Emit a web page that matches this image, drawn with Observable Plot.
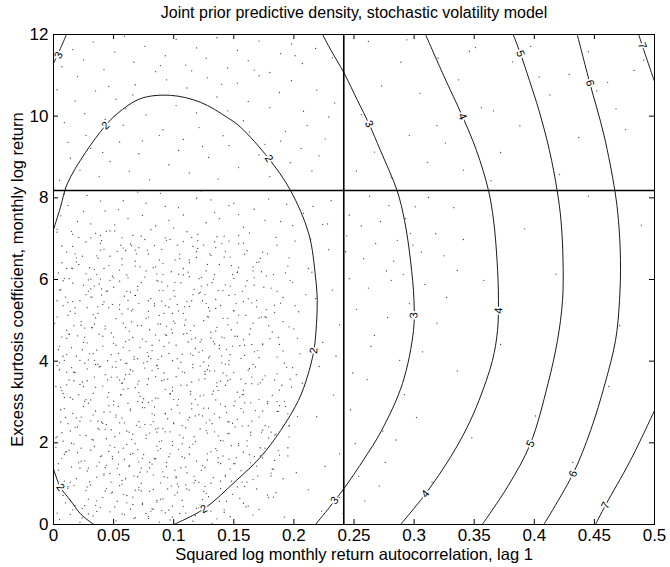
<!DOCTYPE html>
<html><head><meta charset="utf-8">
<script src="https://cdn.jsdelivr.net/npm/d3@7"></script>
<script src="https://cdn.jsdelivr.net/npm/@observablehq/plot@0.6"></script>
<style>body{margin:0;background:#fff}</style>
</head><body><div id="chart"></div>
<script>
const titleText = "Joint prior predictive density, stochastic volatility model";
const xLabelText = "Squared log monthly return autocorrelation, lag 1";
const yLabelText = "Excess kurtosis coefficient, monthly log return";
const xTicks = [0, 0.05, 0.1, 0.15, 0.2, 0.25, 0.3, 0.35, 0.4, 0.45, 0.5];
const yTicks = [0, 2, 4, 6, 8, 10, 12];
const observedX = 0.2415;
const observedY = 8.18;

// contour polylines, [x, y] in data units
const contour2main = [[0,7.22],[0.0058,7.77],[0.0114,8.34],[0.0266,9.11],[0.0433,9.77],[0.053,10.06],[0.0724,10.43],[0.0973,10.51],[0.1223,10.34],[0.1445,9.97],[0.1556,9.73],[0.1791,8.96],[0.1972,8.18],[0.2124,7.12],[0.218,6.06],[0.2194,5.49],[0.2188,4.92],[0.2166,4.26],[0.2111,3.61],[0.2038,3.04],[0.1889,2.3],[0.1722,1.65],[0.1522,1.08],[0.125,0.38],[0.1001,0]];
const contour2corner = [[0,1.36],[0.0058,0.91],[0.0141,0.59],[0.0225,0.26],[0.0335,0]];
const contour3corner = [[0.0108,12],[0.0058,11.66],[0,11.29]];
const contour3main = [[0.2238,12],[0.2309,11.61],[0.2413,11.08],[0.253,10.38],[0.2625,9.81],[0.272,9.16],[0.2858,8.18],[0.292,7.45],[0.297,6.47],[0.2999,5.49],[0.2995,4.75],[0.2903,3.45],[0.2729,2.3],[0.2583,1.6],[0.2415,0.875],[0.2296,0.42],[0.218,0]];
const contour4 = [[0.3095,12],[0.3245,11.0],[0.3403,9.99],[0.3519,9.16],[0.3619,8.18],[0.3661,7.45],[0.369,6.47],[0.3702,5.49],[0.3694,4.75],[0.3652,4.02],[0.354,3.04],[0.3436,2.35],[0.3303,1.65],[0.3095,0.75],[0.2887,0]];
const contour5 = [[0.3824,12],[0.3885,11.53],[0.396,10.87],[0.4039,10.14],[0.4126,9.16],[0.419,8.18],[0.4222,7.45],[0.4239,6.47],[0.4235,5.49],[0.4193,4.51],[0.4114,3.45],[0.3968,1.98],[0.3785,0.96],[0.3567,0]];
const contour6 = [[0.4357,12],[0.4462,10.81],[0.458,9.53],[0.467,8.18],[0.47,7.45],[0.4717,6.47],[0.4709,5.49],[0.4676,4.51],[0.4588,3.45],[0.4468,2.3],[0.4322,1.24],[0.4079,0]];
const contour7top = [[0.4869,12],[0.4898,11.73],[0.5,10.85]];
const contour7bottom = [[0.5,2.79],[0.48,1.57],[0.4592,0.47],[0.4509,0]];

const contourLevels = [2, 2, 3, 3, 4, 5, 6, 7, 7];
const contourLines = [contour2main, contour2corner, contour3corner, contour3main, contour4, contour5, contour6, contour7top, contour7bottom];

// inline contour labels
const labelLevels = [2, 2, 2, 2, 2, 3, 3, 3, 3, 4, 4, 4, 5, 5, 6, 6, 7, 7];
const labelX = [0.0433, 0.1791, 0.2166, 0.125, 0.0058, 0.0042, 0.2625, 0.2997, 0.2338, 0.3403, 0.3702, 0.3095, 0.3885, 0.3968, 0.4462, 0.4322, 0.4898, 0.4592];
const labelY = [9.77, 8.96, 4.26, 0.38, 0.91, 11.49, 9.81, 5.12, 0.59, 9.99, 5.24, 0.75, 11.53, 1.98, 10.81, 1.24, 11.73, 0.47];

// prior predictive draws: "x*1000,y*100"
const drawsBands = [
"5,12 18,47 27,83 33,21 41,66 52,9 58,74 64,38 71,91 79,15 86,55 93,29 101,72 108,44 116,8 124,61 131,33 139,88 147,19 158,52 171,37 185,78 12,93 22,5 36,58 47,31 55,95 68,17 74,49 83,86 91,63 97,11 105,27 113,84 121,41 129,68 136,14 144,57 153,92 166,23 179,66 8,71 16,36 29,62 44,88 61,53 77,27 88,6 99,45 110,97 118,22 127,76 3,28 24,16 39,42 49,79 66,67 82,39 95,87 107,59 132,3 149,74 162,45 192,18 14,59 31,97 57,26 73,82 90,34 103,99 126,93 142,36",
"4,133 11,178 19,112 26,156 34,191 42,124 49,167 57,108 63,145 70,183 78,129 85,161 92,117 99,194 106,139 113,172 121,103 128,158 135,186 143,121 150,149 158,177 166,110 174,163 183,135 195,188 7,162 15,141 23,187 30,105 38,153 46,179 53,137 61,196 67,119 75,171 82,148 89,102 96,166 104,184 111,127 119,155 126,139 133,115 141,168 148,193 156,132 164,151 172,188 181,119 9,106 17,197 28,131 36,116 44,145 51,189 59,160 66,174 73,101 80,139 87,181 94,152 102,114 109,163 116,197 124,144 131,178 139,106 146,160 154,198 169,143 188,170 202,127 2,189 21,151 40,168 55,122 71,153 86,192 101,133 117,118 137,152 161,104",
"3,215 10,262 18,238 25,289 33,207 40,251 47,276 55,224 62,297 69,243 77,211 84,268 91,235 98,282 105,219 112,256 120,293 127,230 134,271 141,205 149,248 156,284 164,226 171,263 179,212 187,277 196,241 6,281 14,229 22,253 29,297 37,236 44,210 52,268 59,249 66,221 74,286 81,244 88,203 95,259 103,292 110,237 117,215 124,266 132,247 139,295 146,223 153,258 161,205 168,279 176,242 185,221 203,265 8,204 16,272 27,218 35,278 43,233 50,293 57,261 65,208 72,238 79,299 86,226 93,271 100,247 108,212 115,283 122,234 130,256 137,217 144,274 151,239 159,298 174,231 193,289 12,247 31,254 48,232 64,279 83,252 97,227 113,262 129,285 145,252 162,242",
"2,338 9,311 17,372 24,349 31,305 39,387 46,323 53,361 60,394 68,335 75,308 82,377 90,352 97,319 104,383 111,341 118,306 126,368 133,327 140,396 147,355 155,312 162,378 170,344 178,301 186,369 198,337 5,396 13,354 21,318 28,381 35,336 43,367 50,302 57,346 64,379 71,323 79,357 86,390 93,331 100,306 107,374 115,349 122,315 129,389 136,338 144,364 151,302 158,329 166,392 174,355 182,316 194,385 207,346 7,328 15,384 26,302 34,361 41,339 49,386 56,317 63,368 70,344 78,399 85,310 92,371 99,336 106,397 114,326 121,354 128,379 135,305 143,341 150,372 157,318 165,361 188,329 202,367 11,373 37,392 58,331 76,383 95,356 116,392 139,351 160,345",
"4,428 11,476 19,412 26,459 34,491 41,437 48,469 56,403 63,452 70,487 78,421 85,464 92,436 100,498 107,417 114,475 122,447 129,408 136,483 144,429 151,461 159,414 166,493 174,442 182,471 191,425 203,456 7,459 15,433 23,497 30,418 38,466 45,401 52,439 60,482 67,411 74,454 82,426 89,491 96,445 103,406 111,468 118,431 125,499 133,448 140,413 148,477 155,438 163,466 171,409 179,487 188,441 9,402 17,487 28,445 36,427 43,479 50,459 58,434 65,496 72,433 80,477 87,404 94,463 102,439 109,488 116,414 123,453 131,471 138,439 146,402 153,494 170,426 196,484 13,466 32,482 54,419 77,448 98,478 121,422 142,457 165,441",
"3,508 10,557 18,531 25,586 33,514 40,562 47,598 55,527 62,549 70,583 77,505 84,541 91,573 99,517 106,592 113,534 121,566 128,509 135,551 143,587 150,523 157,571 165,543 173,508 181,579 191,556 204,521 6,575 14,522 22,548 29,599 37,533 44,571 52,504 59,559 66,527 73,593 81,553 88,512 95,584 103,539 110,501 117,576 124,548 132,592 139,536 146,561 154,513 161,597 169,549 177,526 186,571 197,598 8,536 16,591 27,563 35,506 42,545 50,581 57,516 64,569 71,541 79,522 86,598 93,536 101,559 108,517 115,548 123,584 130,523 137,573 145,505 152,541 167,586 184,537 210,563 12,512 31,577 49,539 68,561 97,552 126,563 158,546",
"4,616 11,667 19,643 27,692 34,625 42,674 49,608 57,651 64,687 72,631 79,662 86,614 94,696 101,648 108,627 116,681 123,605 131,659 138,637 146,694 153,618 161,671 169,642 177,609 186,684 196,653 212,627 7,682 15,628 24,657 31,601 39,688 46,634 53,669 61,611 68,645 76,698 83,629 90,674 98,619 105,662 113,641 120,695 127,621 135,678 142,655 150,603 158,689 166,631 174,667 183,612 201,694 9,603 21,637 37,652 55,623 71,678 88,648 104,613 119,668 134,692 148,634 172,652 193,616",
"3,723 12,781 20,742 28,806 35,713 43,768 51,734 58,793 66,708 74,757 81,722 89,811 96,745 104,776 111,717 119,799 127,739 134,764 142,706 150,787 158,728 167,772 176,745 185,703 194,784 208,762 224,735 6,756 16,711 25,767 39,792 47,719 62,749 70,814 85,731 93,779 108,758 115,703 123,817 138,749 146,781 163,714 179,797 199,732 216,779 9,809 31,736 54,771 77,787 100,726 131,795 154,759 189,742",
"5,843 14,897 22,868 31,921 38,852 47,889 55,937 63,865 71,908 80,844 88,953 96,881 104,916 113,861 121,972 129,899 137,846 146,928 154,874 163,961 171,905 180,852 189,939 197,886 206,921 215,866 226,944 9,984 18,1037 26,1006 35,1062 43,992 52,1041 60,1018 68,1077 77,1003 85,1051 94,1089 102,1026 111,1069 119,1008 128,1094 136,1047 145,1013 153,1081 162,1036 171,1099 180,1021 188,1058 198,1087 208,1012 219,1064 229,998 7,1121 16,1163 25,1138 33,1182 42,1114 51,1157 59,1196 67,1132 76,1171 85,1109 93,1148 102,1188 110,1125 119,1167 127,1142 136,1192 145,1118 153,1161 162,1136 171,1184 180,1107 189,1153 198,1177 207,1129 218,1166 232,1143 12,936 27,953 41,911 58,978 74,939 91,967 108,943 124,926 141,952 158,989 176,931 193,963 211,977 221,903 234,1032 3,1065 20,1097 46,1073 66,1052 89,1124 115,1111 140,1078 167,1113 201,1148",
"212,85 226,142 238,66 251,198 219,264 233,317 247,281 261,355 274,229 288,402 224,446 238,489 252,527 267,463 281,598 296,541 215,618 229,673 244,707 258,651 272,742 286,696 301,778 231,793 246,758 263,804 279,781 293,749 312,801 221,387 235,412 249,371 264,436 278,507 291,612 306,667 218,553 232,574 246,602 256,731 268,688 283,645 297,713 309,588 238,173 254,118 271,94 285,207 302,262 223,33 241,27 259,58 276,152 292,318 307,423 319,493 327,556 336,622 318,712 333,776 341,698 325,658 214,699 228,736 243,668 262,579 277,621 299,684",
"252,866 267,912 281,849 296,953 311,887 326,934 341,868 356,1021 372,911 388,976 404,1096 421,857 437,948 452,1062 468,1018 483,1112 256,1004 273,1074 289,1132 305,1056 320,1142 337,1089 351,1168 366,1013 382,1133 397,1171 413,1052 429,1102 445,1158 461,1083 476,967 491,1137 262,1183 294,1187 346,1159 319,977 364,842 392,724 418,613 445,804 471,487 358,598 336,376 372,441 401,266 432,152 348,212 315,104 489,733 462,338",
"17,352 143,118 62,604 188,291 35,47 109,533 77,219 154,688 8,412 126,375 94,142 51,719 171,506 23,263 138,57 66,458 199,384 42,627 115,296 81,33 157,241 29,571 103,684 184,157 56,318 12,89 134,442 73,706 165,345 47,194 92,517 7,641 121,269 178,72 38,386 149,612 84,161 58,493 196,214 25,338 111,87 162,553 44,245 99,401 15,718 137,163 70,301 187,458 53,57 128,637 32,482 174,278 87,596 4,149 156,407 63,226 120,711 96,35 41,539 181,126 19,261 145,489 78,672 107,198 59,24 168,386 27,614 132,319 88,451 10,53 192,301 54,177 116,563 39,708 159,93 71,351 100,249 24,428 147,655 83,121 61,395 176,509 14,311 125,81 47,657 93,227 205,418 36,143 153,324 68,561 119,39 1,493 84,288 163,171 31,702 108,466 57,99 141,573 76,245 195,633 20,176 130,412 65,683 179,239 45,354 102,117 153,461 11,627 89,62 135,529 72,314 28,92 167,604 50,443 118,203 183,67 6,251 97,698 139,149 60,367 158,275 37,517 113,648 80,81 22,343 174,440 49,161 125,285 90,594 3,716 145,222 67,15 189,542 34,402 106,341 58,677 13,182 131,101 79,508 170,119 42,275 154,629 99,469 26,46 122,569 63,142 197,356 85,234 16,546 140,688 52,385 110,28 176,187 30,629 92,354 147,416 70,117 9,284 160,512 38,233 128,173 82,439 18,663 103,78 186,410 55,596 136,347 74,52 43,486 165,253",
"112,618 29,138 151,563 87,309 200,479 64,283 5,574 142,30 96,532 33,419 172,347 48,104 117,487 21,703 161,192 75,396 127,249 40,577 89,186 184,519 57,636 14,25 134,376 101,593 68,198 155,64 26,481 192,395 79,548 45,312 123,133 6,336 166,621 93,272 36,658 140,459 71,85 109,372 18,517 178,296 61,229 147,136 84,683 2,212 129,531 52,399 187,181 98,94 31,557 115,454 74,162 158,318 44,718 104,306 11,416 171,643 66,49 138,262 90,412 23,155 196,243 55,354 121,602 80,224 36,32 150,524 17,374 108,693 63,426 182,136 41,248 135,474 95,115 8,597 163,382 70,574 113,189 27,306 154,708 86,389 51,43 130,663 15,199 175,581 99,327 60,112 146,391 33,268 122,48 77,621 190,341 46,531 107,242 20,462 167,166 82,303 128,587 59,356 10,178 143,289 94,486 38,589 157,104 68,672 114,418 24,39 180,455 52,263 136,705 3,389 88,573 126,357 43,139 173,226 62,528 105,651 17,96 149,437 76,286 199,593 32,208 118,108 85,362 56,684 164,298 13,466 139,206 91,639 48,77 184,354 67,405 111,546 28,352 152,164 79,20 124,426 40,695 169,533 97,173 5,437 141,371 61,571 22,219 186,277 104,523 72,128 133,601 35,392 159,439 87,236 16,627 125,317 54,148 191,497 69,663 99,18 146,251 11,342 120,676 81,406",
"46,291 118,457 73,138 164,219 29,403 91,612 137,328 58,187 12,544 104,93 176,364 39,672 82,271 151,149 23,488 127,541 66,376 195,168 7,225 113,607 48,416 159,662 86,59 31,182 141,505 74,299 19,653 102,362 169,87 55,538 134,227 93,702 42,121 122,388 63,473 181,226 16,307 147,584 79,412 107,166 28,531 156,356 68,84 36,612 118,266 87,491 5,379 173,619 51,215 131,457 97,321 22,138 164,479 60,671 143,393 11,456 83,37 125,684 45,572 191,112 71,252 108,611 33,321 154,193 90,547 14,104 138,431 57,346 178,663 99,203 26,395 117,102 65,523 150,291 39,167 85,631 130,376 3,548 172,168 54,289 112,447 76,606 20,239 145,352 61,71 101,493 34,584 186,301 91,129 16,681 128,224 48,361 160,584 80,152 25,446 134,612 70,406 201,536 43,82 114,319 57,702 96,419 9,172 167,423 37,253 148,106 84,536 119,654 29,26 62,333 177,507 105,273 50,604 136,181 18,372 93,465 160,43 68,633 125,398 41,461 184,219 78,343 13,602 110,141 55,249 143,669 87,382 32,557 171,306 100,573 64,172 22,402 129,508 47,125 153,618 73,487 195,271 8,321 116,384 39,601 90,205 158,453 60,448"
];

// ---- build tables ----
const draws = drawsBands.join(" ").trim().split(/\s+/).map(t => {
  const [a, b] = t.split(",");
  return {x: +a / 1000, y: +b / 100};
});
const lineRows = [];
contourLines.forEach((pts, i) => pts.forEach(([x, y]) => lineRows.push({id: i, level: contourLevels[i], x, y})));

const W = 670, H = 567;
const mL = 53, mR = 16, mT = 34, mB = 43;
const pw = W - mL - mR, ph = H - mT - mB;

function labelAngle(level, lx, ly) {
  let best = [0, 1], bd = Infinity;
  contourLines.forEach((pts, i) => {
    if (contourLevels[i] !== level) return;
    for (let k = 0; k < pts.length - 1; k++) {
      const [x0, y0] = pts[k], [x1, y1] = pts[k + 1];
      const mx = (x0 + x1) / 2, my = (y0 + y1) / 2;
      const d = ((mx - lx) * pw / 0.5) ** 2 + ((my - ly) * ph / 12) ** 2;
      if (d < bd) { bd = d; best = [x1 - x0, y1 - y0]; }
    }
  });
  let a = Math.atan2(-best[1] * ph / 12, best[0] * pw / 0.5) * 180 / Math.PI;
  if (a > 90) a -= 180;
  if (a <= -90) a += 180;
  return a;
}
const labels = labelLevels.map((lv, i) => ({level: lv, x: labelX[i], y: labelY[i], angle: labelAngle(lv, labelX[i], labelY[i])}));

const font = "'Liberation Sans', Arial, Helvetica, sans-serif";

const chart = Plot.plot({
  width: W, height: H,
  marginLeft: mL, marginRight: mR, marginTop: mT, marginBottom: mB,
  style: {fontFamily: font, background: "#fff", color: "#000"},
  x: {domain: [0, 0.5], ticks: xTicks, tickFormat: d => String(d), label: null},
  y: {domain: [0, 12], ticks: yTicks, tickFormat: d => String(d), label: null},
  marks: [
    Plot.dot(draws, {x: "x", y: "y", r: 0.65, fill: "#000", fillOpacity: 0.75, stroke: null}),
    Plot.line(lineRows, {x: "x", y: "y", z: "id", stroke: "#000", strokeWidth: 0.9, curve: "catmull-rom", clip: true}),
    Plot.text(labels, {x: "x", y: "y", text: d => String(d.level), rotate: "angle", fontSize: 11, fill: "#000", stroke: "#fff", strokeWidth: 3.5, paintOrder: "stroke"}),
    Plot.ruleX([observedX], {stroke: "#000", strokeWidth: 1.6}),
    Plot.ruleY([observedY], {stroke: "#000", strokeWidth: 1.6}),
    Plot.ruleX(xTicks, {x: d => d, insetTop: ph - 5, stroke: "#000"}),
    Plot.ruleX(xTicks, {x: d => d, insetBottom: ph - 5, stroke: "#000"}),
    Plot.ruleY(yTicks, {y: d => d, insetRight: pw - 5, stroke: "#000"}),
    Plot.ruleY(yTicks, {y: d => d, insetLeft: pw - 5, stroke: "#000"}),
    Plot.frame({stroke: "#000", strokeWidth: 1}),
    Plot.axisX({ticks: xTicks, tickFormat: d => String(d), tickSize: 0, tickPadding: 4, fontSize: 17, label: null}),
    Plot.axisY({ticks: yTicks, tickFormat: d => String(d), tickSize: 0, tickPadding: 5, fontSize: 17, label: null}),
    Plot.text([titleText], {frameAnchor: "top", dy: -22, fontSize: 16, lineAnchor: "middle", textAnchor: "middle", fill: "#000"}),
    Plot.text([xLabelText], {frameAnchor: "bottom", dy: 30, fontSize: 16.5, lineAnchor: "middle", textAnchor: "middle", fill: "#000"}),
    Plot.text([yLabelText], {frameAnchor: "left", dx: -36, rotate: -90, fontSize: 16.5, lineAnchor: "middle", textAnchor: "middle", fill: "#000"})
  ]
});
document.getElementById("chart").appendChild(chart);
</script></body></html>
